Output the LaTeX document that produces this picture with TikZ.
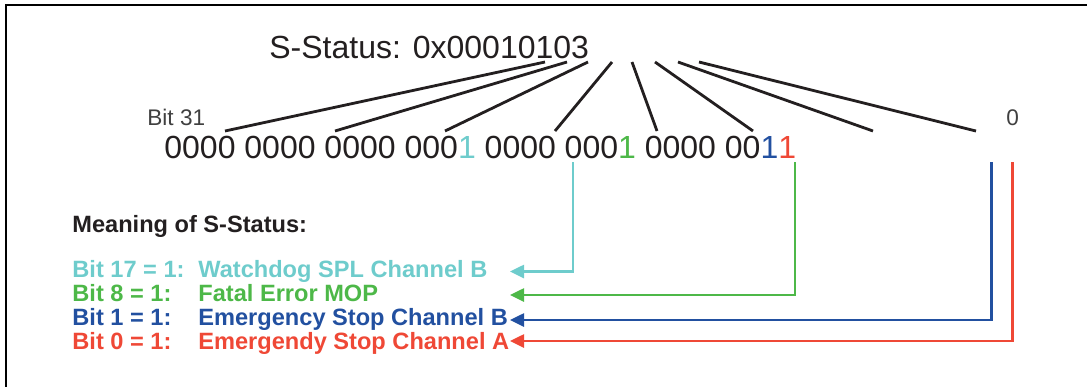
\documentclass[tikz,border=0pt]{standalone}
\usepackage{fontspec}
\setmainfont{Liberation Sans}
\usetikzlibrary{arrows.meta}
\definecolor{ink}{RGB}{35,31,32}
\definecolor{greyink}{RGB}{64,64,64}
\definecolor{bitcyan}{RGB}{110,204,204}
\definecolor{bitgreen}{RGB}{77,184,72}
\definecolor{bitblue}{RGB}{34,80,160}
\definecolor{bitred}{RGB}{239,72,54}

\begin{document}
\begin{tikzpicture}[x=0.5pt,y=-0.5pt,
    txt/.style={anchor=base west,inner sep=0pt,text=ink},
    big/.style={txt,font=\fontsize{16}{19}\selectfont},
    small/.style={txt,text=greyink,font=\fontsize{11.3}{13}\selectfont},
    legend/.style={txt,font=\fontsize{11.8}{12}\selectfont\bfseries},
    nibble/.style={draw=ink,line width=1.4pt},
    bitline/.style={line width=1.3pt,-{Triangle[length=7pt,width=6.5pt]}}]
  \useasboundingbox (0,0) rectangle (1087,387);
  \draw[line width=1pt] (1087,5) -- (6,5) -- (6,387);

  % status word and its bits
  \node[big] (status) at (269,58) {S-Status: 0x00010103};
  \node[small] (msb) at (147,125) {Bit 31};
  \node[small] (lsb) at (1006,125) {0};
  \node[big] (bits) at (164,158) {0000 0000 0000 000\textcolor{bitcyan}{1}
    0000 000\textcolor{bitgreen}{1} 0000 00\textcolor{bitblue}{1}\textcolor{bitred}{1}};

  \foreach \i/\tx/\bx in {1/545/225,2/567/335,3/588/445,4/612/555,
                          5/632/657,6/655/753,7/678/873,8/699/976} {
    \coordinate (top\i) at (\tx,62);
    \coordinate (nib\i) at (\bx,131);
    \draw[nibble] (top\i) -- (nib\i);
  }

  % meaning
  \node[legend] (meaning) at (72,232) {Meaning of S-Status:};
  \node[legend,text=bitcyan] (bit17) at (72,277) {Bit 17 = 1:};
  \node[legend,text=bitcyan] (wdog) at (198,277) {Watchdog SPL Channel B};
  \node[legend,text=bitgreen] (bit8) at (72,301) {Bit 8 = 1:};
  \node[legend,text=bitgreen] (fatal) at (198,301) {Fatal Error MOP};
  \node[legend,text=bitblue] (bit1) at (72,325.5) {Bit 1 = 1:};
  \node[legend,text=bitblue] (estopb) at (198,325.5) {Emergency Stop Channel B};
  \node[legend,text=bitred] (bit0) at (72,349) {Bit 0 = 1:};
  \node[legend,text=bitred] (estopa) at (198,349) {Emergendy Stop Channel A};

  \coordinate (from17) at (573,162);
  \coordinate (from8) at (795,162);
  \coordinate (from1) at (991.5,162);
  \coordinate (from0) at (1012.5,162);
  \coordinate (to17) at (510,271.5);
  \coordinate (to8) at (510,295);
  \coordinate (to1) at (510,320);
  \coordinate (to0) at (510,341);
  \draw[bitline,bitcyan] (from17) |- (to17);
  \draw[bitline,bitgreen] (from8) |- (to8);
  \draw[bitline,bitblue] (from1) |- (to1);
  \draw[bitline,bitred] (from0) |- (to0);
\end{tikzpicture}
\end{document}
